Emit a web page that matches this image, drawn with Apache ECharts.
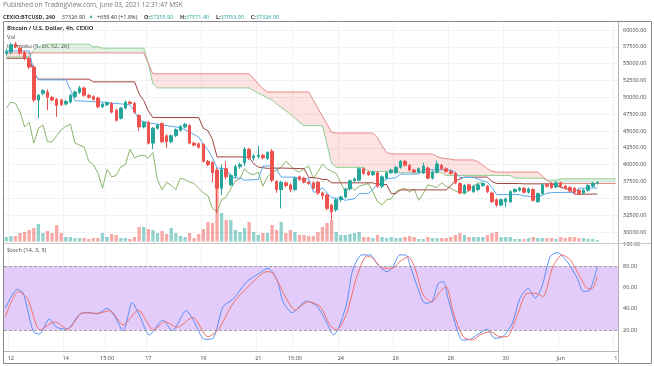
<!DOCTYPE html>
<html><head><meta charset="utf-8">
<script src="https://cdn.jsdelivr.net/npm/echarts@6/dist/echarts.min.js"></script>
<style>html,body{margin:0;padding:0;background:#fff}#c{width:654px;height:366px}</style>
</head><body><div id="c"></div>
<script>
// ---------- DATA ----------
const SLOTS = 134; // 4h bar slots on the time axis (incl. empty future slots)
const timeTicks = [[1,'12'],[13,'14'],[22,'15:00'],[31,'17'],[43,'19'],[55,'21'],[63,'15:00'],[73,'24'],[85,'26'],[97,'28'],[109,'30'],[121,'Jun'],[133,'1']];
// [open, close, low, high]
const candles = [
[56500,56800,56200,57200],[56700,57800,56400,58100],[57900,57500,57300,58200],[57300,56600,56300,57600],[56700,55800,55500,56900],
[55800,54500,54200,56000],[54500,49600,49300,54800],[49600,50300,46900,50500],[50600,51000,50300,51200],[50800,50000,48100,51200],
[50000,49600,49400,50200],[49700,48800,47100,49900],[49600,48900,48700,49800],[49000,49400,48800,49600],[49300,50300,49100,50500],
[50100,50800,49900,51000],[50700,51400,50500,51700],[51400,50300,50100,51600],[50300,50000,49800,50500],[50100,49700,49500,50300],
[49900,48600,48400,50100],[48600,49000,48400,49200],[48900,49200,48700,49400],[49100,47800,47600,49300],[48100,46600,46400,48300],
[46900,48400,46700,48600],[48400,49300,48200,49500],[49300,49100,48900,49500],[49100,47800,47600,49300],[47300,45600,45000,47500],
[45600,46300,45400,46500],[46300,43200,43000,46500],[43200,45400,42300,45600],[45400,45900,45200,46100],[46100,43400,43200,46300],
[44300,43400,42500,44500],[43400,44300,43200,44500],[44300,45200,44100,45400],[45100,45700,44900,45900],[45600,46000,45400,46200],
[45800,43200,43000,46000],[43200,42900,42700,43400],[43100,42600,42400,43300],[43000,40500,40300,43200],[40500,40000,39800,40700],
[40300,38800,37400,40500],[39200,36500,32800,39500],[36500,39300,35500,40000],[39400,38200,37800,40500],[37000,38400,36800,38700],
[38300,39700,38000,40000],[39700,40000,39400,40300],[40300,42300,39800,42600],[42300,41000,40700,42500],[41000,41300,40600,41600],
[41200,41400,40900,42800],[41400,41000,40800,41600],[40900,41800,40700,42000],[42000,37700,37400,42300],[37500,36300,35800,37700],
[36300,37400,33500,37600],[37300,36900,36600,37500],[37000,36300,35900,37200],[36300,38000,36100,38200],[38200,37800,37600,38400],
[38000,37400,37200,38200],[37400,37200,37000,37600],[37300,36500,36300,37500],[37400,35800,35500,37600],[35800,35400,34800,36000],
[35500,33500,33200,35700],[34000,33000,31800,34200],[33300,34800,33000,35000],[34800,35200,34500,35400],[35200,36400,35000,36600],
[36400,37600,36200,37800],[37600,37900,37400,38100],[37700,39400,37500,39600],[39400,38700,38500,39600],[38900,38500,38300,39100],
[38500,38900,38300,39100],[38800,36800,36600,39000],[36800,38200,36500,38400],[38000,38800,37800,39000],[38800,39200,38600,39400],
[38800,39600,38600,39800],[39600,40500,39400,40700],[40500,39900,39700,40700],[39900,39200,39000,40100],[39200,38900,38700,39400],
[38900,39400,38700,39600],[38800,39800,38600,40300],[39500,38000,37800,39700],[38000,38900,37800,39100],[38900,40100,38700,40600],
[39900,39400,39200,40100],[39400,39000,38800,39600],[39000,38700,38500,39200],[38700,37300,37100,38900],[37200,35800,35600,37400],
[35800,36900,35600,37100],[37000,36200,36000,37200],[36000,36800,35800,37000],[36300,37000,36100,37300],[36900,37200,36700,37400],
[36800,36000,35800,37000],[35800,34500,34300,36000],[34800,34000,33700,35000],[34000,34800,33800,35000],[34500,34900,33700,35100],
[34500,36000,34300,36200],[36000,36300,35800,36500],[36200,36500,36000,36700],[36500,35900,35700,36700],[35900,36400,35700,36600],
[36300,34700,34500,36500],[34500,35700,34300,35900],[35700,37000,35500,37200],[37000,36800,36600,37200],[37200,36600,36400,37400],
[36700,37300,36500,37500],[37300,36800,36600,37500],[36800,36500,36300,37000],[36600,36100,35900,36800],[36500,35900,35700,36700],
[36200,35700,35500,36400],[35800,36200,35600,36400],[36200,36900,36000,37100],[36800,37250,36600,37400],[37255.9,37326.9,37053.9,37571.4]
];
const volumes = [
450,550,550,850,950,1150,1350,1750,850,1050,850,1650,850,450,450,350,350,350,250,350,
350,850,450,750,650,350,350,250,450,1450,1450,1250,1150,850,1050,750,1350,850,550,450,
850,350,750,1250,1950,1850,5450,2850,2150,2150,1150,950,1350,1950,950,650,850,850,1650,1150,
1950,850,1150,950,650,650,550,550,950,1450,1850,2150,950,650,650,750,850,950,450,450,
350,650,450,350,450,350,350,450,550,450,250,250,450,350,350,350,350,450,650,850,
650,450,450,450,450,650,850,950,450,450,450,250,250,250,350,450,350,350,350,350,
250,450,350,450,450,350,350,250,250,150
];
// Ichimoku leading spans, per bar slot (already displaced forward)
const spanA = [
56000,56000,56000,56000,56000,56000,57000,57500,57700,57900,57900,57900,57900,57900,57900,57900,57900,57900,57900,57500,
57500,57300,57300,57300,57300,57300,57300,57300,57300,57300,57300,55000,52000,51400,51400,51400,51400,51400,51400,51400,
51400,51400,51400,51400,51400,51400,51400,51400,51400,51400,51400,51400,51400,51400,51000,50600,50300,49900,49600,49000,
48500,48000,47500,46900,46300,45800,45800,45800,45800,45800,43000,40200,39600,39600,39600,39600,39600,39600,39600,39000,
39000,39000,39000,39000,39000,39000,38800,38800,38800,38800,38800,38800,38800,38800,38800,38800,38400,38400,38400,38400,
38400,38400,38400,38400,38400,38400,38400,38400,38400,38400,38400,38000,38000,38000,38000,38000,38000,38000,37700,37700,
37700,37900,37900,37900,37900,37900,37900,37900,37900,37900,37900,37900,37900,37900
];
const spanB = [
56600,56600,56600,56600,56600,56600,56600,56600,56600,56600,56600,56600,56600,56600,56600,56600,56600,56600,56600,56600,
56600,56600,56600,56600,56600,56600,56600,56600,56600,56600,56600,55000,53500,53500,53500,53500,53500,53500,53500,53500,
53500,53500,53500,53500,53500,53500,53500,53500,53500,53500,53500,53500,53500,53500,52800,52000,51300,50800,50800,50800,
50800,50800,50800,50800,50800,50800,50800,49600,48400,47200,46000,44800,44700,44700,44700,44700,44700,44700,44700,44700,
44700,44000,42800,41800,41600,41600,41600,41600,41600,41600,41600,41600,41600,41600,41200,41000,40900,40800,40700,40700,
40700,40700,40700,40400,39900,39400,39000,38900,38900,38900,38900,38900,38900,38900,38900,38900,38900,38300,37700,37200,
37200,37200,37200,37200,37200,37200,37200,37200,37200,37200,37200,37200,37200,37200
];
// [bar index, price]
const tenkan = [[0,56900],[5,56900],[6,53800],[7,52600],[13,52600],[14,51100],[15,49500],[21,49300],[23,49150],[27,48900],[28,47900],[29,46600],[31,46200],[34,45900],[38,45500],[40,44850],[42,44100],[43,43000],[44,42200],[45,41000],[46,39500],[48,39400],[49,38100],[51,38000],[52,37700],[55,37800],[56,39800],[58,39800],[59,39300],[60,38150],[63,38150],[64,37900],[66,37900],[67,35950],[68,35950],[69,36600],[70,35800],[71,35100],[73,35000],[74,34700],[76,34950],[77,35700],[79,35700],[80,36300],[81,37050],[82,37300],[83,37900],[85,38050],[86,38600],[90,38600],[91,39250],[95,39250],[97,39200],[98,38850],[99,38100],[102,38100],[103,37850],[104,37600],[105,37400],[106,36600],[107,35550],[112,35550],[113,35350],[116,35200],[117,35450],[118,35750],[119,35850],[124,35900],[125,36500],[129,36535]];
const kijun = [[0,55800],[5,55800],[6,53700],[7,52700],[18,52700],[19,52300],[28,52300],[29,50500],[30,49500],[31,48000],[32,47000],[42,47000],[43,45400],[44,45050],[45,43750],[46,41150],[52,41150],[53,41050],[54,40150],[55,39650],[57,39450],[60,39500],[65,39400],[66,38100],[68,38000],[69,37800],[70,37800],[71,37300],[80,37300],[81,37050],[83,37050],[84,35700],[85,35700],[86,36250],[96,36250],[97,36850],[98,37600],[99,37850],[100,38150],[105,38150],[106,37500],[107,37200],[112,37200],[113,37150],[119,37150],[120,36900],[121,36650],[122,36450],[123,36300],[124,35600],[129,35640]];
const LAG = 25; // lagging span offset in bars
// Stochastic (14,3,3): [bar index, value]
const stochK = [[-0.2,40.6],[2.4,58.4],[3.7,54.7],[5.9,18.7],[7.2,16.5],[9.4,30.6],[11.0,22.8],[13.2,20.9],[16.1,35.3],[18.3,36.5],[19.8,35.3],[22.0,40.6],[23.7,32.7],[25.5,19.6],[27.5,45.9],[29.2,32.7],[31.2,15.6],[34.2,29.6],[36.2,19.6],[39.3,38.4],[40.8,29.6],[43.3,11.5],[45.1,12.4],[47.3,42.1],[49.5,49.1],[52.5,65.6],[54.7,71.9],[57.1,78.1],[59.1,67.2],[60.4,46.8],[62.4,36.5],[65.5,47.5],[67.9,42.1],[70.0,26.5],[71.4,15.6],[72.4,20.9],[74.3,45.3],[75.6,76.6],[77.6,90.6],[79.4,90.6],[81.1,81.2],[83.1,75],[84.2,78.1],[85.9,90.6],[87.2,90.6],[88.1,81.2],[89.7,60.9],[91.4,45.3],[92.9,46.8],[94.3,64.1],[95.4,65.6],[96.4,50],[98.4,20.3],[99.5,10.9],[101.3,11.5],[102.7,15.6],[104.9,20.9],[106.6,12.4],[108.4,14],[110.4,26.5],[112.1,50],[113.9,59.3],[115.4,50],[116.9,60.9],[118.7,89],[120.2,92.8],[122.4,84.4],[124.6,68.8],[125.9,56.3],[127.4,57.8],[129,79.7]];
const stochD = [[-0.2,32.7],[2.6,56.3],[4.6,50],[7.4,20.3],[10.6,28],[13.4,20.9],[16.7,36.5],[19.8,35.8],[22.6,38.4],[25.5,25],[28.8,38.9],[32.1,20.3],[34.7,28],[37.3,22.8],[40.7,32.2],[44.0,14],[46.2,20.3],[49.5,45.3],[52.8,60.9],[56.9,75],[58.2,73.4],[61.3,48.4],[63.0,39],[65.9,46.8],[68.5,42.1],[70.7,24.5],[72.1,20.3],[74.3,35.8],[76.5,70.3],[78.7,89.7],[80.0,87.5],[82.2,78.1],[84.2,78.1],[85.9,84.4],[87.7,89],[89.2,78.1],[91.0,53.1],[92.9,46.8],[94.7,56.3],[96.0,60.9],[97.5,37.4],[99.7,14],[101.7,10.9],[103.4,15.6],[105.6,18.7],[107.7,14],[109.3,14],[111.5,34.2],[113.7,54.7],[115.4,54.7],[117.1,51.6],[119.3,79.7],[121.3,90.6],[123.1,85.9],[125.2,70.3],[126.8,59.3],[127.9,59.3],[129,70.3]];
const stochBand = [20, 80];
const priceAxis = {min: 27500, max: 62500, step: 2500};
const volumeAxisMax = 21950;

// ---------- BUILD ----------
const UP = '#26a69a', DOWN = '#ef5350';
const FONT = 'Open Sans, DejaVu Sans, sans-serif';
const cats = Array.from({length: SLOTS}, (_, i) => { const t = timeTicks.find(d => d[0] === i); return t ? t[1] : ''; });
const lagging = candles.slice(LAG).map(c => c[1]);
const volData = volumes.map((v, i) => ({value: v, itemStyle: {color: candles[i][1] >= candles[i][0] ? 'rgba(38,166,154,0.5)' : 'rgba(239,83,80,0.5)'}}));
const cloudBase = spanA.map((a, i) => Math.min(a, spanB[i]));
const cloudGreen = spanA.map((a, i) => Math.max(a - spanB[i], 0));
const cloudRed = spanA.map((a, i) => Math.max(spanB[i] - a, 0));
const last = candles[candles.length - 1];
const tickShown = (idx, val) => val !== '';

const L = 4, R = 36;
const chart = echarts.init(document.getElementById('c'), null, {renderer: 'canvas'});
const lineBase = {type: 'line', symbol: 'none', silent: true, animation: false};
chart.setOption({
  animation: false,
  backgroundColor: '#ffffff',
  textStyle: {fontFamily: FONT},
  grid: [
    {left: L, right: R, top: 13.17, bottom: 117.17},
    {left: L, right: R, top: 22, bottom: 124.5},
    {left: L, right: R, top: 244.9, bottom: 14.4}
  ],
  xAxis: [
    {type: 'category', gridIndex: 0, data: cats, show: false},
    {type: 'value', gridIndex: 0, min: -0.5, max: SLOTS - 0.5, show: false},
    {type: 'category', gridIndex: 1, data: cats, axisLine: {show: false}, axisTick: {show: false}, axisLabel: {show: false},
      splitLine: {show: true, interval: tickShown, lineStyle: {color: '#f0f2f5', width: 1}}},
    {type: 'category', gridIndex: 2, data: cats, axisTick: {show: false},
      axisLine: {show: true, lineStyle: {color: '#b8b8b8', width: 1}},
      axisLabel: {interval: tickShown, fontSize: 5.5, color: '#444', margin: 4, fontFamily: FONT},
      splitLine: {show: true, interval: tickShown, lineStyle: {color: '#f0f2f5', width: 1}}},
    {type: 'value', gridIndex: 2, min: -0.5, max: SLOTS - 0.5, show: false}
  ],
  yAxis: [
    {type: 'value', gridIndex: 0, position: 'right', min: priceAxis.min, max: priceAxis.max, interval: priceAxis.step,
      axisLine: {show: false}, axisTick: {show: false},
      axisLabel: {showMinLabel: false, showMaxLabel: false, fontSize: 5.5, color: '#444', margin: 5, fontFamily: FONT, formatter: v => v.toFixed(2)},
      splitLine: {show: true, showMinLine: false, showMaxLine: false, lineStyle: {color: '#f0f2f5', width: 1}}},
    {type: 'value', gridIndex: 1, min: 0, max: volumeAxisMax, show: false},
    {type: 'value', gridIndex: 2, position: 'right', min: 0, max: 100, interval: 20,
      axisLine: {show: false}, axisTick: {show: false}, splitLine: {show: false},
      axisLabel: {showMinLabel: false, fontSize: 5.5, color: '#444', margin: 5, fontFamily: FONT, formatter: v => v.toFixed(2)}}
  ],
  series: [
    {type: 'bar', name: 'Vol', xAxisIndex: 2, yAxisIndex: 1, data: volData, barWidth: '72%', z: 1, silent: true},
    Object.assign({}, lineBase, {name: 'cloudBase', xAxisIndex: 0, yAxisIndex: 0, stack: 'cloud', data: cloudBase, lineStyle: {opacity: 0}, z: 2}),
    Object.assign({}, lineBase, {name: 'cloudGreen', xAxisIndex: 0, yAxisIndex: 0, stack: 'cloud', data: cloudGreen, lineStyle: {opacity: 0}, areaStyle: {color: 'rgba(67,160,71,0.14)', opacity: 1}, z: 2}),
    Object.assign({}, lineBase, {name: 'cloudRed', xAxisIndex: 0, yAxisIndex: 0, stack: 'cloud', data: cloudRed, lineStyle: {opacity: 0}, areaStyle: {color: 'rgba(244,67,54,0.15)', opacity: 1}, z: 2}),
    Object.assign({}, lineBase, {name: 'Lead A', xAxisIndex: 0, yAxisIndex: 0, data: spanA, lineStyle: {color: '#8fcf91', width: 1}, z: 3}),
    Object.assign({}, lineBase, {name: 'Lead B', xAxisIndex: 0, yAxisIndex: 0, data: spanB, lineStyle: {color: '#e88a8a', width: 1}, z: 3}),
    Object.assign({}, lineBase, {name: 'Lagging', xAxisIndex: 0, yAxisIndex: 0, data: lagging, lineStyle: {color: '#8bb56a', width: 1}, z: 3}),
    Object.assign({}, lineBase, {name: 'Base', xAxisIndex: 1, yAxisIndex: 0, data: kijun, lineStyle: {color: '#a0453f', width: 1}, z: 3}),
    Object.assign({}, lineBase, {name: 'Conversion', xAxisIndex: 1, yAxisIndex: 0, data: tenkan, lineStyle: {color: '#5aaaf0', width: 1}, z: 3}),
    {type: 'candlestick', name: 'BTCUSD', xAxisIndex: 0, yAxisIndex: 0, data: candles, barWidth: 3, z: 5, silent: true,
      itemStyle: {color: UP, color0: DOWN, borderColor: UP, borderColor0: DOWN, borderWidth: 1},
      markLine: {silent: true, symbol: 'none', animation: false, lineStyle: {opacity: 0},
        label: {position: 'end', distance: 1, formatter: () => last[1].toFixed(2), color: '#fff', backgroundColor: UP, padding: [1.5, 4, 1, 4], fontSize: 5.5, fontFamily: FONT},
        data: [{yAxis: last[1]}]}},
    Object.assign({}, lineBase, {name: '%K', xAxisIndex: 4, yAxisIndex: 2, data: stochK, smooth: 0.25, lineStyle: {color: '#5b8ff5', width: 1}, z: 4,
      markArea: {silent: true, itemStyle: {color: 'rgb(227,204,250)'}, data: [[{yAxis: stochBand[0]}, {yAxis: stochBand[1]}]]}}),
    Object.assign({}, lineBase, {name: '%D', xAxisIndex: 4, yAxisIndex: 2, data: stochD, smooth: 0.25, lineStyle: {color: '#f07068', width: 1}, z: 4,
      markLine: {silent: true, symbol: 'none', label: {show: false}, lineStyle: {color: '#a0a0a0', type: [3, 2], width: 1},
        data: [{yAxis: stochBand[1]}, {yAxis: stochBand[0]}]}})
  ],
  graphic: [
    {type: 'text', left: 3, top: 1.5, z: 1, style: {text: 'Published on TradingView.com, June 03, 2021 12:31:47 MSK', fontSize: 6.5, fill: '#777', fontFamily: FONT}},
    {type: 'text', left: 3, top: 11, z: 1, style: {
      text: '{b|CEXIO:BTCUSD, 240}  {n|37326.90} {g|▲} {n|+658.40 (+1.8%)}  {b|O:}{v|37255.90}  {b|H:}{v|37571.40}  {b|L:}{v|37053.90}  {b|C:}{v|37326.90}',
      rich: {b: {fontSize: 5.5, fontWeight: 'bold', fill: '#333', fontFamily: FONT}, n: {fontSize: 5.5, fill: '#333', fontFamily: FONT},
             g: {fontSize: 5, fill: UP}, v: {fontSize: 5.5, fill: UP, fontFamily: FONT}}}},
    {type: 'text', left: 7, top: 25.5, z: 1, style: {text: 'Bitcoin / U.S. Dollar, 4h, CEXIO', fontSize: 5.8, fontWeight: 'bold', fill: '#333', fontFamily: FONT}},
    {type: 'text', left: 7, top: 34.5, z: 1, style: {text: 'Vol', fontSize: 5.8, fill: '#444', fontFamily: FONT}},
    {type: 'text', left: 7, top: 43, z: 1, style: {text: 'Ichimoku (9, 26, 52, 26)', fontSize: 5.8, fill: '#444', fontFamily: FONT}},
    {type: 'text', left: 7, top: 247.5, z: 1, style: {text: 'Stoch (14, 3, 3)', fontSize: 5.8, fill: '#444', fontFamily: FONT}},
    {type: 'rect', z: 100, shape: {x: 3.5, y: 21.5, width: 648, height: 342}, style: {fill: 'none', stroke: '#8a8a8a', lineWidth: 1}},
    {type: 'line', z: 100, shape: {x1: 618.5, y1: 22, x2: 618.5, y2: 364}, style: {stroke: '#b0b0b0', lineWidth: 1}},
    {type: 'line', z: 100, shape: {x1: 4, y1: 243.5, x2: 651, y2: 243.5}, style: {stroke: '#c8c8c8', lineWidth: 1}}
  ]
});
</script></body></html>
